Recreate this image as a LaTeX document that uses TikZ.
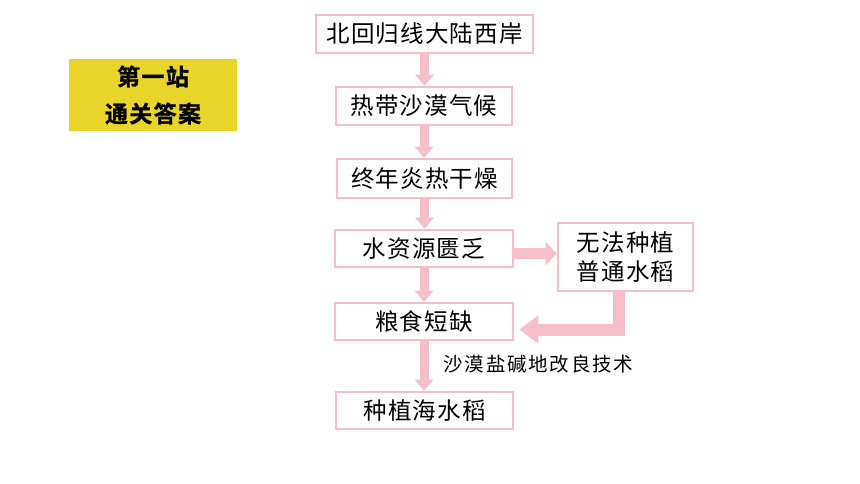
\documentclass[tikz,border=0pt]{standalone}
\usepackage{fontspec}
\usetikzlibrary{arrows.meta,calc}
\newfontfamily\cjk[LetterSpace=5]{Noto Sans CJK SC}
\newfontfamily\cjknote[LetterSpace=9]{Noto Sans CJK SC}
\newfontfamily\cjkbold[LetterSpace=6,BoldFont={Noto Sans CJK SC Bold},BoldFeatures={FakeBold=1.2}]{Noto Sans CJK SC}
\definecolor{pinkline}{RGB}{246,190,200}
\definecolor{goldbox}{RGB}{233,213,42}
\tikzset{
  stepbox/.style={draw=pinkline, line width=2.6pt, fill=white, inner sep=0pt,
    font=\cjk\fontsize{23.5}{29}\selectfont, align=center},
  flowarrow/.style={draw=pinkline, line width=9pt,
    -{Triangle[width=18pt,length=11pt,fill=pinkline]}},
  sidearrow/.style={draw=pinkline, line width=11pt,
    -{Triangle[width=23pt,length=11pt,fill=pinkline]}},
  backarrow/.style={draw=pinkline, line width=12pt, line join=miter,
    -{Triangle[width=27pt,length=19pt,fill=pinkline]}},
  notetext/.style={font=\cjknote\fontsize{19.5}{22}\selectfont, inner sep=0pt},
  titlebox/.style={fill=goldbox, inner sep=0pt, align=center,
    font=\cjkbold\bfseries\fontsize{23}{37}\selectfont}
}
\begin{document}
\begin{tikzpicture}[x=1pt,y=-1pt]
\useasboundingbox (0,0) rectangle (860,484);
\fill[white] (0,0) rectangle (860,484);

\node[titlebox, minimum width=168pt, minimum height=72pt] (title) at (153,95) {第一站\\通关答案};

\node[stepbox, minimum width=217pt, minimum height=38pt] (b1) at (424.5,34) {北回归线大陆西岸};
\node[stepbox, minimum width=176pt, minimum height=38pt] (b2) at (424,106) {热带沙漠气候};
\node[stepbox, minimum width=175pt, minimum height=39pt] (b3) at (424.5,178.5) {终年炎热干燥};
\node[stepbox, minimum width=178pt, minimum height=37pt] (b4) at (424,248.5) {水资源匮乏};
\node[stepbox, minimum width=135pt, minimum height=68pt] (b5) at (625.5,257) {无法种植\\普通水稻};
\node[stepbox, minimum width=178pt, minimum height=37pt] (b6) at (424,321.5) {粮食短缺};
\node[stepbox, minimum width=177pt, minimum height=37pt] (b7) at (424.5,410.5) {种植海水稻};

\node[notetext] (note) at (538.5,364) {沙漠盐碱地改良技术};

\draw[flowarrow] (b1.south) -- (b1.south |- b2.north);
\draw[flowarrow] (b2.south) -- (b2.south |- b3.north);
\draw[flowarrow] (b3.south) -- (b3.south |- b4.north);
\draw[flowarrow] (b4.south) -- (b4.south |- b6.north);
\draw[flowarrow] (b6.south) -- (b6.south |- b7.north);

\coordinate (s1) at ($(b4.east)+(0,5)$);
\draw[sidearrow] (s1) -- (s1 -| b5.west);

\coordinate (e1) at ($(b5.south)+(-6.5,0)$);
\coordinate (e2) at ($(b6.east)+(5,8)$);
\draw[backarrow] (e1) |- (e2);
\end{tikzpicture}
\end{document}
